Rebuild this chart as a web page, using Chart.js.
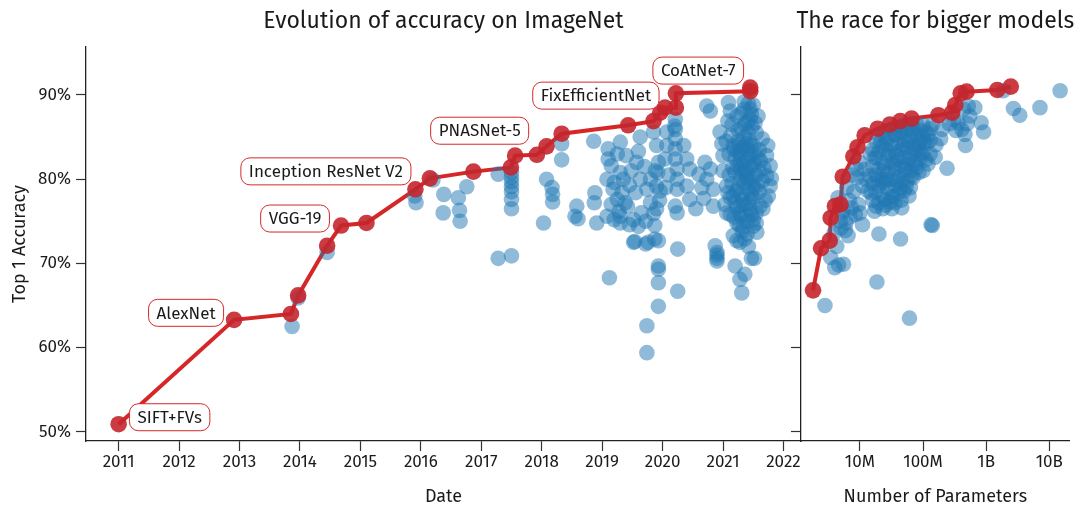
<!DOCTYPE html>
<html>
<head>
<meta charset="utf-8">
<title>Evolution of accuracy on ImageNet</title>
<script src="https://cdn.jsdelivr.net/npm/chart.js@4.4.1/dist/chart.umd.min.js"></script>
<style>
  html, body { margin: 0; padding: 0; background: #fff; }
  #wrap { position: relative; width: 1078px; height: 510px; overflow: hidden; }
  #wrap canvas { position: absolute; top: 0; }
  #byDate { left: 0; }
  #bySize { left: 780px; }
</style>
</head>
<body>
<div id="wrap">
  <canvas id="byDate" width="812" height="510"></canvas>
  <canvas id="bySize" width="298" height="510"></canvas>
</div>
<script>
// --- data ---------------------------------------------------------------

// state of the art over time (publication date as decimal year, top-1 %)
const sotaDates = [2011.0, 2012.91, 2013.85, 2013.97, 2014.45, 2014.68, 2015.1, 2015.91, 2016.15, 2016.87,
  2017.49, 2017.56, 2017.92, 2018.08, 2018.33, 2019.43, 2019.85, 2019.96, 2020.04, 2020.22, 2020.22, 2021.45, 2021.45];
const sotaTop1 = [50.9, 63.3, 64.0, 66.2, 72.1, 74.5, 74.8, 78.8, 80.1, 80.9,
  81.4, 82.8, 82.9, 83.9, 85.4, 86.4, 86.9, 87.9, 88.5, 88.5, 90.2, 90.45, 90.88];

// named models on the SOTA line and which SOTA entry they belong to
const calloutNames = ['SIFT+FVs', 'AlexNet', 'VGG-19', 'Inception ResNet V2', 'PNASNet-5', 'FixEfficientNet', 'CoAtNet-7'];
const calloutSota = [0, 1, 5, 8, 14, 19, 22];

// all other models: [date, top-1 %]
const modelsByDate = [
  [2013.87, 62.5], [2013.97, 65.9], [2014.45, 71.3], [2015.9, 78.0], [2015.92, 77.2], [2016.2, 79.9],
  [2016.38, 78.2], [2016.37, 76.0], [2016.62, 77.8], [2016.64, 76.3], [2016.65, 75.0], [2016.76, 79.1],
  [2017.28, 80.6], [2017.5, 80.8], [2017.5, 80.2], [2017.5, 79.7], [2017.5, 79.1], [2017.5, 78.5],
  [2017.5, 77.6], [2017.5, 76.5], [2017.28, 70.6], [2017.5, 70.9],
  [2018.08, 80.0], [2018.17, 79.0], [2018.18, 78.2], [2018.18, 77.3], [2018.33, 84.2], [2018.33, 82.3],
  [2018.03, 74.8], [2018.58, 76.8], [2018.55, 75.6], [2018.6, 75.3], [2018.86, 84.5], [2018.87, 77.2],
  [2018.91, 74.8], [2018.88, 78.4], [2019.12, 68.3],
  [2019.1, 83.6], [2019.1, 82.4], [2019.15, 81.6], [2019.08, 80.0], [2019.18, 78.8], [2019.3, 84.4],
  [2019.3, 80.8], [2019.35, 80.0], [2019.33, 78.4], [2019.25, 77.6], [2019.42, 76.8], [2019.3, 75.6],
  [2019.52, 75.2], [2019.57, 82.0], [2019.63, 80.0], [2019.74, 78.8], [2019.8, 77.2], [2019.9, 79.2],
  [2019.65, 76.0], [2019.85, 75.9], [2019.08, 75.6], [2019.2, 75.2], [2019.25, 83.0], [2019.4, 82.8],
  [2019.45, 79.3], [2019.55, 78.4], [2019.2, 79.6], [2019.6, 83.3], [2019.7, 81.5], [2019.48, 81.0],
  [2019.38, 77.2], [2019.15, 77.0], [2019.28, 76.2], [2019.6, 74.4], [2019.45, 74.6], [2019.3, 74.8],
  [2019.72, 75.0], [2019.9, 76.5], [2019.88, 81.0], [2019.8, 80.0],
  [2019.63, 85.0], [2019.85, 85.6], [2019.9, 84.0], [2019.93, 82.0], [2019.92, 80.8], [2019.87, 72.9],
  [2019.87, 74.5], [2019.52, 72.5], [2019.72, 72.3], [2019.54, 72.6], [2019.76, 72.5], [2019.93, 72.7],
  [2019.93, 69.7], [2019.93, 69.3], [2019.93, 67.7], [2019.93, 64.9], [2019.74, 62.6], [2019.74, 59.4],
  [2019.95, 77.5], [2019.96, 78.6],
  [2020.21, 87.1], [2020.21, 85.9], [2020.21, 84.8], [2020.21, 83.6], [2020.21, 82.4], [2020.24, 81.2],
  [2020.24, 80.0], [2020.24, 78.8], [2020.21, 76.8], [2020.24, 76.0], [2020.35, 84.0], [2020.4, 82.4],
  [2020.45, 81.2], [2020.4, 79.2], [2020.45, 77.6], [2020.07, 85.6], [2020.07, 84.0], [2020.04, 82.4],
  [2020.25, 71.7], [2020.25, 66.7], [2020.1, 80.5], [2020.05, 79.0], [2020.2, 86.3],
  [2020.7, 82.0], [2020.65, 79.0], [2020.6, 80.6], [2020.68, 77.7], [2020.55, 76.5],
  [2020.73, 88.7], [2020.79, 88.1], [2021.09, 89.1], [2021.12, 88.1],
  [2020.95, 85.6], [2021.23, 87.5], [2021.45, 88.3], [2021.45, 87.1], [2021.42, 85.5], [2021.5, 84.0],
  [2021.17, 84.0], [2021.0, 82.8], [2021.23, 81.6], [2021.5, 82.0], [2021.72, 82.8], [2021.78, 81.6],
  [2021.72, 80.4], [2021.28, 80.0], [2021.06, 79.2], [2021.5, 79.2], [2020.79, 81.2], [2020.73, 80.0],
  [2020.84, 78.8], [2021.17, 78.0], [2021.45, 77.6], [2021.61, 76.8], [2021.28, 76.0], [2021.06, 76.0],
  [2020.84, 76.8], [2021.23, 74.8], [2021.5, 74.4], [2021.56, 73.7], [2021.17, 73.3], [2021.78, 79.2],
  [2021.75, 78.0], [2021.5, 75.2],
  [2020.9, 71.3], [2020.9, 71.0], [2020.9, 70.6], [2020.9, 70.3], [2020.87, 72.1], [2021.23, 72.7],
  [2021.28, 72.5], [2021.47, 70.6], [2021.2, 69.7], [2021.36, 68.7], [2021.28, 68.1], [2021.31, 66.5],
  [2021.32, 73.8], [2021.42, 72.0], [2021.52, 70.6],
  [2021.3, 86.0], [2021.35, 85.0], [2021.25, 84.5], [2021.4, 83.5], [2021.3, 83.0], [2021.2, 82.5],
  [2021.35, 82.0], [2021.45, 81.5], [2021.3, 81.2], [2021.4, 80.5], [2021.2, 80.8], [2021.55, 80.5],
  [2021.35, 79.5], [2021.25, 79.0], [2021.4, 78.8], [2021.6, 78.5], [2021.3, 78.2], [2021.5, 77.8],
  [2021.2, 77.3], [2021.35, 77.0], [2021.45, 76.3], [2021.3, 75.6], [2021.4, 75.0], [2021.6, 83.5],
  [2021.55, 85.5], [2021.4, 86.8], [2021.3, 87.8], [2021.48, 86.2], [2021.38, 84.2], [2021.45, 82.8],
  [2021.25, 85.8], [2021.15, 86.5], [2021.1, 83.0], [2021.1, 80.5], [2021.15, 79.5], [2021.6, 81.0],
  [2021.65, 79.8], [2021.12, 77.8], [2021.52, 83.2], [2021.33, 83.8], [2021.42, 79.8], [2021.28, 81.8],
  [2021.38, 80.2], [2021.47, 78.2], [2021.22, 76.6], [2021.55, 76.0], [2021.33, 74.3], [2021.4, 73.5],
  [2021.7, 77.5], [2021.05, 84.5], [2021.0, 81.0], [2021.65, 84.8], [2021.58, 87.5], [2021.42, 89.0],
  [2021.5, 88.8], [2021.35, 88.3],
  [2021.13, 85.2], [2021.18, 83.6], [2021.27, 82.9], [2021.37, 81.1], [2021.43, 84.6], [2021.52, 81.7],
  [2021.57, 79.3], [2021.62, 82.2], [2021.22, 78.6], [2021.32, 77.6], [2021.43, 77.1], [2021.53, 78.9],
  [2021.18, 75.5], [2021.27, 74.6], [2021.47, 75.8], [2021.36, 86.6], [2021.47, 87.7], [2021.27, 84.1],
  [2021.33, 80.7], [2021.48, 80.1], [2021.58, 82.6], [2021.24, 83.3], [2021.41, 82.3], [2021.16, 81.4],
  [2021.53, 86.7], [2021.08, 78.4], [2021.66, 76.5], [2021.38, 75.9], [2021.29, 76.9], [2021.46, 83.9],
  [2021.68, 81.3], [2021.12, 75.8], [2021.55, 74.8], [2021.36, 72.9], [2021.74, 84.0], [2021.8, 80.1],
  [2021.03, 77.0], [2020.98, 84.2], [2021.08, 86.9], [2021.35, 89.2]
];

// state of the art by model size (parameters, top-1 %)
const sotaParams = [1.81e6, 2.43e6, 3.33e6, 3.45e6, 4.03e6, 4.92e6, 5.35e6, 7.89e6, 9.18e6, 1.19e7, 1.91e7,
  2.99e7, 4.36e7, 6.58e7, 1.75e8, 2.88e8, 3.24e8, 3.95e8, 4.89e8, 1.5e9, 2.45e9];
const sotaTop1BySize = [66.8, 71.8, 72.7, 75.4, 76.8, 77.0, 80.3, 82.7, 83.8, 85.2, 86.0,
  86.5, 86.9, 87.2, 87.6, 87.9, 88.8, 90.2, 90.4, 90.6, 91.0];

// all other models: [parameters, top-1 %]
const modelsBySize = [
  [1.48e10, 90.5], [7.1e9, 88.5], [2.7e9, 88.4], [3.4e9, 87.6], [1.86e9, 90.5], [8.3e8, 86.7],
  [9.1e8, 85.6], [4.6e8, 85.3], [4.7e8, 84.0], [6.6e8, 88.5], [5.2e8, 88.7], [2.4e8, 81.3],
  [1.56e8, 82.6], [1.9e8, 84.8], [2.0e8, 85.9], [3.6e8, 86.7], [4.1e8, 85.9], [1.42e8, 86.5],
  [1.34e8, 74.6], [1.4e8, 74.5], [4.4e7, 72.9], [2.0e7, 73.5], [1.86e7, 67.8], [6.1e7, 63.5],
  [2.8e6, 65.0], [3.45e6, 70.7], [4.0e6, 69.5], [5.5e6, 69.9], [4.6e6, 69.8], [4.6e7, 76.6],
  [1.1e7, 74.6], [6.5e6, 73.3], [5.9e6, 73.9], [4.9e6, 75.0], [5.2e6, 76.0], [7.4e6, 76.6],
  [6.2e6, 79.0], [1.2e7, 81.2], [8.9e6, 81.2], [1.1e7, 79.2], [1.34e7, 78.6],
  [4.5e6, 77.8], [5.5e6, 76.3], [6.8e6, 77.5], [8.0e6, 78.5], [9.5e6, 77.0], [7.0e6, 75.5],
  [5.0e6, 74.2], [6.0e6, 74.8], [8.5e6, 75.8], [1.0e7, 76.0], [3.9e6, 73.6], [4.3e6, 72.0],
  [9.0e6, 80.2], [7.5e6, 80.5], [1.0e7, 82.0],
  [1.6e7, 83.5], [1.6e7, 81.5], [1.6e7, 79.5], [1.6e7, 77.5],
  [1.8e7, 84.5], [1.8e7, 82.5], [1.8e7, 80.5], [1.8e7, 78.5], [1.8e7, 76.8],
  [2.0e7, 85.2], [2.0e7, 83.2], [2.0e7, 81.2], [2.0e7, 79.2], [2.0e7, 77.2],
  [2.3e7, 84.0], [2.3e7, 82.0], [2.3e7, 80.0], [2.3e7, 78.0], [2.3e7, 76.5],
  [2.5e7, 85.6], [2.5e7, 83.6], [2.5e7, 81.6], [2.5e7, 79.6], [2.5e7, 77.6],
  [2.8e7, 84.8], [2.8e7, 82.8], [2.8e7, 80.8], [2.8e7, 78.8],
  [3.2e7, 86.0], [3.2e7, 84.0], [3.2e7, 82.0], [3.2e7, 80.0], [3.2e7, 78.0], [3.2e7, 76.5],
  [3.6e7, 85.2], [3.6e7, 83.2], [3.6e7, 81.2], [3.6e7, 79.2], [3.6e7, 77.2],
  [4.0e7, 86.2], [4.0e7, 84.3], [4.0e7, 82.3], [4.0e7, 80.3], [4.0e7, 78.3],
  [4.5e7, 85.5], [4.5e7, 83.5], [4.5e7, 81.5], [4.5e7, 79.5], [4.5e7, 77.5],
  [5.0e7, 86.4], [5.0e7, 84.6], [5.0e7, 82.6], [5.0e7, 80.6], [5.0e7, 78.6],
  [5.6e7, 85.8], [5.6e7, 83.8], [5.6e7, 81.8], [5.6e7, 79.8],
  [6.3e7, 86.6], [6.3e7, 85.0], [6.3e7, 83.0], [6.3e7, 81.0], [6.3e7, 79.0],
  [7.0e7, 86.0], [7.0e7, 84.0], [7.0e7, 82.2], [7.0e7, 80.2],
  [8.0e7, 86.5], [8.0e7, 85.2], [8.0e7, 83.4], [8.0e7, 81.4],
  [9.0e7, 85.8], [9.0e7, 84.4], [9.0e7, 82.4],
  [1.0e8, 86.4], [1.0e8, 85.0], [1.0e8, 83.2], [1.0e8, 81.0],
  [1.15e8, 85.6], [1.15e8, 84.2], [1.3e8, 86.0], [1.3e8, 84.6], [1.3e8, 83.0],
  [2.6e8, 86.6], [3.0e8, 87.1], [3.3e8, 85.8], [5.0e8, 86.6], [5.5e8, 87.5], [4.4e8, 88.3],
  [1.7e7, 82.6], [1.9e7, 80.0], [2.1e7, 84.3], [2.2e7, 79.6], [2.4e7, 81.0], [2.6e7, 84.7],
  [2.7e7, 79.9], [2.9e7, 83.1], [3.0e7, 77.3], [3.4e7, 85.3], [3.5e7, 81.7], [3.8e7, 82.8],
  [3.9e7, 79.8], [4.2e7, 85.8], [4.3e7, 78.9], [4.8e7, 84.0], [5.2e7, 81.2], [5.4e7, 79.1],
  [5.9e7, 84.5], [6.0e7, 82.3], [6.6e7, 80.4], [6.8e7, 85.6], [7.4e7, 83.5], [7.6e7, 81.8],
  [8.4e7, 84.0], [8.6e7, 80.8], [9.4e7, 83.0], [1.05e8, 84.4], [1.1e8, 82.3], [1.2e8, 85.3],
  [1.4e7, 80.4], [1.5e7, 78.4], [1.7e7, 76.2], [2.6e7, 76.9], [3.4e7, 77.9], [6.0e7, 78.0],
  [1.2e8, 81.8], [1.6e8, 84.1], [1.45e7, 83.0], [1.25e7, 80.0]
];

// axes
const yearTicks = [2011, 2012, 2013, 2014, 2015, 2016, 2017, 2018, 2019, 2020, 2021, 2022];
const accuracyTicks = [50, 60, 70, 80, 90];
const paramTicks = [1e7, 1e8, 1e9, 1e10];
const paramTickLabels = ['10M', '100M', '1B', '10B'];

// --- look ---------------------------------------------------------------

const FONT = "'Fira Sans', 'Open Sans', sans-serif";
const INK = '#1a1a1a';
const BLUE = 'rgba(31, 119, 180, 0.5)';
const RED_LINE = '#d62728';
const RED_DOT = 'rgba(196, 38, 45, 0.9)';
const calloutOffsets = [[51, -7], [-48, -7], [-46, -7], [-104, -7], [-82, -3], [-80, -12], [-52, -17]];

const panelTitle = {
  id: 'panelTitle',
  afterDraw(chart, args, opts) {
    const { ctx, chartArea } = chart;
    ctx.save();
    ctx.font = `23px ${FONT}`;
    ctx.fillStyle = INK;
    ctx.textAlign = 'center';
    ctx.textBaseline = 'middle';
    ctx.fillText(opts.text, (chartArea.left + chartArea.right) / 2, opts.y);
    ctx.restore();
  }
};

// rounded boxes naming the record holders
const callouts = {
  id: 'callouts',
  afterDatasetsDraw(chart, args, opts) {
    if (!opts.items) return;
    const { ctx, scales } = chart;
    ctx.save();
    ctx.font = `17px ${FONT}`;
    opts.items.forEach(it => {
      const cx = scales.x.getPixelForValue(it.x) + it.dx;
      const cy = scales.y.getPixelForValue(it.y) + it.dy;
      const w = ctx.measureText(it.text).width + 16;
      const h = 27;
      ctx.beginPath();
      ctx.roundRect(cx - w / 2, cy - h / 2, w, h, 9);
      ctx.fillStyle = '#fff';
      ctx.fill();
      ctx.lineWidth = 1;
      ctx.strokeStyle = RED_LINE;
      ctx.stroke();
      ctx.fillStyle = INK;
      ctx.textAlign = 'center';
      ctx.textBaseline = 'middle';
      ctx.fillText(it.text, cx, cy + 1);
    });
    ctx.restore();
  }
};

const tickFont = { family: FONT, size: 17 };
const titleFont = { family: FONT, size: 18 };

function axis(extra) {
  return Object.assign({
    bounds: 'data',
    grid: { drawOnChartArea: false, drawTicks: true, tickLength: 10, tickWidth: 1.2, tickColor: '#333' },
    border: { display: true, color: '#222', width: 1.3 },
  }, extra);
}

function yAxis(showLabels, width) {
  return axis({
    min: 48.91, max: 95.7,
    afterBuildTicks: s => { s.ticks = accuracyTicks.map(v => ({ value: v })); },
    afterFit: s => { s.width = width; },
    ticks: { display: showLabels, font: tickFont, color: INK, padding: 5, callback: v => v + '%' },
    title: { display: showLabels, text: 'Top 1 Accuracy', font: titleFont, color: INK, padding: { top: 9, bottom: 0 } }
  });
}

function datasets(points, sota) {
  return [
    { data: sota, showLine: true, borderColor: RED_LINE, borderWidth: 4, pointRadius: 0, order: 3 },
    { data: points, backgroundColor: BLUE, pointRadius: 7.8, borderWidth: 0, order: 2 },
    { data: sota, backgroundColor: RED_DOT, pointRadius: 8.3, borderWidth: 0, order: 1 }
  ];
}

const common = {
  responsive: false,
  animation: false,
  events: [],
};

// --- left: accuracy by date ---------------------------------------------

new Chart(document.getElementById('byDate'), {
  type: 'scatter',
  data: {
    datasets: datasets(
      modelsByDate.map(([x, y]) => ({ x, y })),
      sotaDates.map((x, i) => ({ x, y: sotaTop1[i] }))
    )
  },
  options: Object.assign({}, common, {
    layout: { padding: { top: 47, right: 11, left: 0, bottom: 0 } },
    plugins: {
      legend: { display: false },
      tooltip: { enabled: false },
      panelTitle: { text: 'Evolution of accuracy on ImageNet', y: 22 },
      callouts: {
        items: calloutNames.map((text, k) => ({
          text,
          x: sotaDates[calloutSota[k]],
          y: sotaTop1[calloutSota[k]],
          dx: calloutOffsets[k][0],
          dy: calloutOffsets[k][1]
        }))
      }
    },
    scales: {
      x: axis({
        type: 'linear', min: 2010.46, max: 2022.29,
        afterBuildTicks: s => { s.ticks = yearTicks.map(v => ({ value: v })); },
        afterFit: s => { s.height = 69; },
        ticks: { font: tickFont, color: INK, padding: 1, maxRotation: 0, callback: v => String(v) },
        title: { display: true, text: 'Date', font: titleFont, color: INK, padding: { top: 0, bottom: 2 } }
      }),
      y: yAxis(true, 86)
    }
  }),
  plugins: [panelTitle, callouts]
});

// --- right: accuracy by model size --------------------------------------

new Chart(document.getElementById('bySize'), {
  type: 'scatter',
  data: {
    datasets: datasets(
      modelsBySize.map(([x, y]) => ({ x, y })),
      sotaParams.map((x, i) => ({ x, y: sotaTop1BySize[i] }))
    )
  },
  options: Object.assign({}, common, {
    layout: { padding: { top: 47, right: 0, left: 0, bottom: 0 } },
    plugins: {
      legend: { display: false },
      tooltip: { enabled: false },
      panelTitle: { text: 'The race for bigger models', y: 22 }
    },
    scales: {
      x: axis({
        type: 'logarithmic', min: 1.168e6, max: 2.1e10,
        afterBuildTicks: s => { s.ticks = paramTicks.map(v => ({ value: v })); },
        afterFit: s => { s.height = 69; },
        ticks: { font: tickFont, color: INK, padding: 1, maxRotation: 0, autoSkip: false,
          callback: v => paramTickLabels[paramTicks.indexOf(v)] },
        title: { display: true, text: 'Number of Parameters', font: titleFont, color: INK, padding: { top: 0, bottom: 2 } }
      }),
      y: yAxis(false, 21)
    }
  }),
  plugins: [panelTitle]
});
</script>
</body>
</html>
